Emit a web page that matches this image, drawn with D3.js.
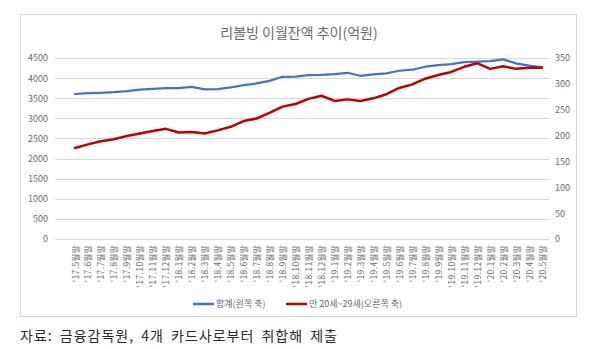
<!DOCTYPE html>
<html>
<head>
<meta charset="utf-8">
<script src="https://cdn.jsdelivr.net/npm/d3@7"></script>
<style>
  html, body { margin: 0; padding: 0; background: #fff; }
  svg { display: block; font-family: "Noto Sans CJK KR", "Noto Sans", sans-serif; }
</style>
</head>
<body>
<svg id="chart" width="600" height="349"></svg>
<script>
// Monthly revolving carry-over balance (억원), May 2017 – May 2020
const months = [
  "'17.5", "'17.6", "'17.7", "'17.8", "'17.9", "'17.10", "'17.11", "'17.12",
  "'18.1", "'18.2", "'18.3", "'18.4", "'18.5", "'18.6", "'18.7", "'18.8",
  "'18.9", "'18.10", "'18.11", "'18.12",
  "'19.1", "'19.2", "'19.3", "'19.4", "'19.5", "'19.6", "'19.7", "'19.8",
  "'19.9", "'19.10", "'19.11", "'19.12",
  "'20.1", "'20.2", "'20.3", "'20.4", "'20.5"
];
const categories = months.map(m => m + "월말");

// 합계 (left axis)
const totalValues = [
  3605, 3625, 3635, 3650, 3675, 3715, 3735, 3750,
  3752, 3783, 3718, 3725, 3767, 3825, 3867, 3933,
  4033, 4035, 4075, 4083,
  4100, 4133, 4058, 4092, 4117, 4183, 4208, 4283,
  4325, 4350, 4400, 4408,
  4425, 4467, 4367, 4308, 4267
];

// 만 20세~29세 (right axis)
const youthValues = [
  176, 183, 189, 193, 199, 204, 209, 213,
  206, 207, 204, 210, 217, 228, 233, 244,
  256, 261, 271, 277,
  267, 270, 267, 272, 280, 292, 299, 310,
  317, 323, 333, 340,
  329, 334, 329, 331, 331
];

const leftTicks = [0, 500, 1000, 1500, 2000, 2500, 3000, 3500, 4000, 4500];
const rightTicks = [0, 50, 100, 150, 200, 250, 300, 350];

const title = "리볼빙 이월잔액 추이(억원)";
const seriesNames = ["합계(왼쪽 축)", "만 20세~29세(오른쪽 축)"];
const sourceNote = "자료: 금융감독원, 4개 카드사로부터 취합해 제출";

const svg = d3.select("#chart");
const textColor = "#6b6b6b";
const gridColor = "#d9d9d9";
const blue = "#4472c4";
const red = "#c00000";

const plot = { left: 55, right: 550, top: 58, bottom: 239 };

const x = d3.scalePoint().domain(categories).range([75, 542]);
const yL = d3.scaleLinear().domain([0, 4500]).range([plot.bottom, plot.top]);
const yR = d3.scaleLinear().domain([0, 350]).range([plot.bottom, plot.top]);

// chart frame
svg.append("rect")
  .attr("x", 20.5).attr("y", 14.5)
  .attr("width", 556).attr("height", 302)
  .attr("fill", "#fff").attr("stroke", gridColor).attr("stroke-width", 1);

// title
svg.append("text")
  .attr("x", 299).attr("y", 38)
  .attr("text-anchor", "middle")
  .attr("font-size", 14)
  .attr("fill", textColor)
  .text(title);

// horizontal gridlines
svg.append("g").selectAll("line")
  .data(leftTicks)
  .join("line")
  .attr("x1", plot.left).attr("x2", plot.right)
  .attr("y1", d => Math.round(yL(d)) + 0.5)
  .attr("y2", d => Math.round(yL(d)) + 0.5)
  .attr("stroke", gridColor)
  .attr("stroke-width", 1);

// left axis
const leftAxis = svg.append("g")
  .attr("transform", `translate(${plot.left - 7},0)`)
  .call(d3.axisLeft(yL).tickValues(leftTicks).tickFormat(d3.format("d"))
    .tickSize(0).tickPadding(0));
leftAxis.select(".domain").remove();
leftAxis.selectAll("text").attr("font-size", 9).attr("fill", textColor)
  .attr("font-family", "'Noto Sans CJK KR', sans-serif");

// right axis
const rightAxis = svg.append("g")
  .attr("transform", `translate(${plot.right + 5},0)`)
  .call(d3.axisRight(yR).tickValues(rightTicks).tickFormat(d3.format("d"))
    .tickSize(0).tickPadding(0));
rightAxis.select(".domain").remove();
rightAxis.selectAll("text").attr("font-size", 9).attr("fill", textColor)
  .attr("font-family", "'Noto Sans CJK KR', sans-serif");

// category labels, rotated
const xAxis = svg.append("g")
  .attr("transform", `translate(0,${plot.bottom})`)
  .call(d3.axisBottom(x).tickSize(0).tickPadding(0));
xAxis.select(".domain").remove();
xAxis.selectAll("text")
  .attr("font-size", 8.5)
  .attr("fill", textColor)
  .attr("font-family", "'Noto Sans CJK KR', sans-serif")
  .attr("letter-spacing", 0.4)
  .attr("text-anchor", "end")
  .attr("dy", null)
  .attr("y", 0)
  .attr("transform", "translate(3,6) rotate(-90)");

// lines
const totalLine = d3.line()
  .x((d, i) => x(categories[i]))
  .y(d => yL(d));
const youthLine = d3.line()
  .x((d, i) => x(categories[i]))
  .y(d => yR(d));

svg.append("path")
  .datum(totalValues)
  .attr("d", totalLine)
  .attr("fill", "none")
  .attr("stroke", blue)
  .attr("stroke-width", 2.25)
  .attr("stroke-linejoin", "round")
  .attr("stroke-linecap", "round");

svg.append("path")
  .datum(youthValues)
  .attr("d", youthLine)
  .attr("fill", "none")
  .attr("stroke", red)
  .attr("stroke-width", 2.5)
  .attr("stroke-linejoin", "round")
  .attr("stroke-linecap", "round");

// legend
const legendItems = [
  { name: seriesNames[0], color: blue, x: 193 },
  { name: seriesNames[1], color: red, x: 286 }
];
const legend = svg.append("g").attr("transform", "translate(0,304)");
legendItems.forEach(item => {
  legend.append("line")
    .attr("x1", item.x).attr("x2", item.x + 21)
    .attr("y1", 0).attr("y2", 0)
    .attr("stroke", item.color).attr("stroke-width", 2.5);
  legend.append("text")
    .attr("x", item.x + 23).attr("y", 3)
    .attr("font-size", 9)
    .attr("fill", textColor)
    .text(item.name);
});

// source note
svg.append("text")
  .attr("x", 20).attr("y", 341)
  .attr("font-size", 14)
  .attr("fill", "#2a2a2a")
  .attr("letter-spacing", 1)
  .attr("word-spacing", 3)
  .text(sourceNote);
</script>
</body>
</html>
